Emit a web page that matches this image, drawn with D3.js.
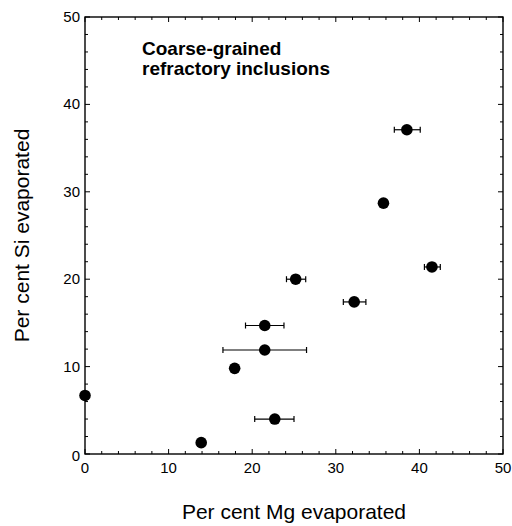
<!DOCTYPE html>
<html>
<head>
<meta charset="utf-8">
<script src="https://cdn.jsdelivr.net/npm/d3@7"></script>
<style>
  body { margin:0; background:#fff; }
  svg text { font-family: "Liberation Sans", Arial, Helvetica, sans-serif; fill:#000; }
</style>
</head>
<body>
<div id="chart"></div>
<script>
// Per cent Mg evaporated (x), Per cent Si evaporated (y), x error bar ends
const mgValues = [0, 13.9, 22.7, 17.9, 21.5, 21.5, 25.2, 32.2, 35.7, 38.5, 41.5];
const siValues = [6.7, 1.3, 4.0, 9.8, 11.9, 14.7, 20.0, 17.4, 28.7, 37.1, 21.4];
const mgLow    = [null, null, 20.3, null, 16.5, 19.2, 24.1, 30.9, null, 37.0, 40.6];
const mgHigh   = [null, null, 25.0, null, 26.5, 23.8, 26.4, 33.6, null, 40.1, 42.5];
const xTicks = [0, 10, 20, 30, 40, 50];
const yTicks = [0, 10, 20, 30, 40, 50];
const titleLines = ["Coarse-grained", "refractory inclusions"];

const W = 512, H = 526;
const m = {l:85, r:9, t:17, b:72};

const svg = d3.select('#chart').append('svg').attr('width', W).attr('height', H);
const x = d3.scaleLinear().domain([0, 50]).range([m.l, W - m.r]);
const y = d3.scaleLinear().domain([0, 50]).range([H - m.b, m.t]);

const minor = d3.range(0, 51, 2);

// frame
svg.append('rect')
  .attr('x', x(0)).attr('y', y(50))
  .attr('width', x(50) - x(0)).attr('height', y(0) - y(50))
  .attr('fill', 'none').attr('stroke', '#000').attr('stroke-width', 1.4);

// ticks on all four sides, pointing inward
const tk = svg.append('g').attr('stroke', '#000').attr('stroke-width', 1);
const len = v => (v % 10 === 0 ? 5 : 3);
minor.forEach(v => {
  tk.append('line').attr('x1', x(v)).attr('x2', x(v)).attr('y1', y(0)).attr('y2', y(0) - len(v));
  tk.append('line').attr('x1', x(v)).attr('x2', x(v)).attr('y1', y(50)).attr('y2', y(50) + len(v));
  tk.append('line').attr('y1', y(v)).attr('y2', y(v)).attr('x1', x(0)).attr('x2', x(0) + len(v));
  tk.append('line').attr('y1', y(v)).attr('y2', y(v)).attr('x1', x(50)).attr('x2', x(50) - len(v));
});

// tick labels
svg.append('g').selectAll('text').data(xTicks).enter().append('text')
  .attr('x', d => x(d)).attr('y', y(0) + 19)
  .attr('text-anchor', 'middle').attr('font-size', 15)
  .text(d => d);
svg.append('g').selectAll('text').data(yTicks).enter().append('text')
  .attr('x', x(0) - 5).attr('y', d => y(d) + (d === 0 ? 7 : 5))
  .attr('text-anchor', 'end').attr('font-size', 15)
  .text(d => d);

// axis titles
svg.append('text')
  .attr('x', (x(0) + x(50)) / 2).attr('y', 519)
  .attr('text-anchor', 'middle').attr('font-size', 21)
  .text('Per cent Mg evaporated');
svg.append('text')
  .attr('transform', `translate(29,${(y(0) + y(50)) / 2}) rotate(-90)`)
  .attr('text-anchor', 'middle').attr('font-size', 21)
  .text('Per cent Si evaporated');

// inner title
svg.append('g').selectAll('text').data(titleLines).enter().append('text')
  .attr('x', 142).attr('y', (d, i) => 55 + i * 20)
  .attr('font-size', 19).attr('font-weight', 'bold')
  .text(d => d);

// data
const rows = mgValues.map((v, i) => ({mg: v, si: siValues[i], lo: mgLow[i], hi: mgHigh[i]}));
const err = svg.append('g').attr('stroke', '#000').attr('stroke-width', 1.2);
rows.filter(d => d.lo != null).forEach(d => {
  err.append('line').attr('x1', x(d.lo)).attr('x2', x(d.hi)).attr('y1', y(d.si)).attr('y2', y(d.si));
  [d.lo, d.hi].forEach(e => {
    err.append('line').attr('x1', x(e)).attr('x2', x(e)).attr('y1', y(d.si) - 3).attr('y2', y(d.si) + 3);
  });
});
svg.append('g').selectAll('circle').data(rows).enter().append('circle')
  .attr('cx', d => x(d.mg)).attr('cy', d => y(d.si)).attr('r', 5.8)
  .attr('fill', '#000');
</script>
</body>
</html>
